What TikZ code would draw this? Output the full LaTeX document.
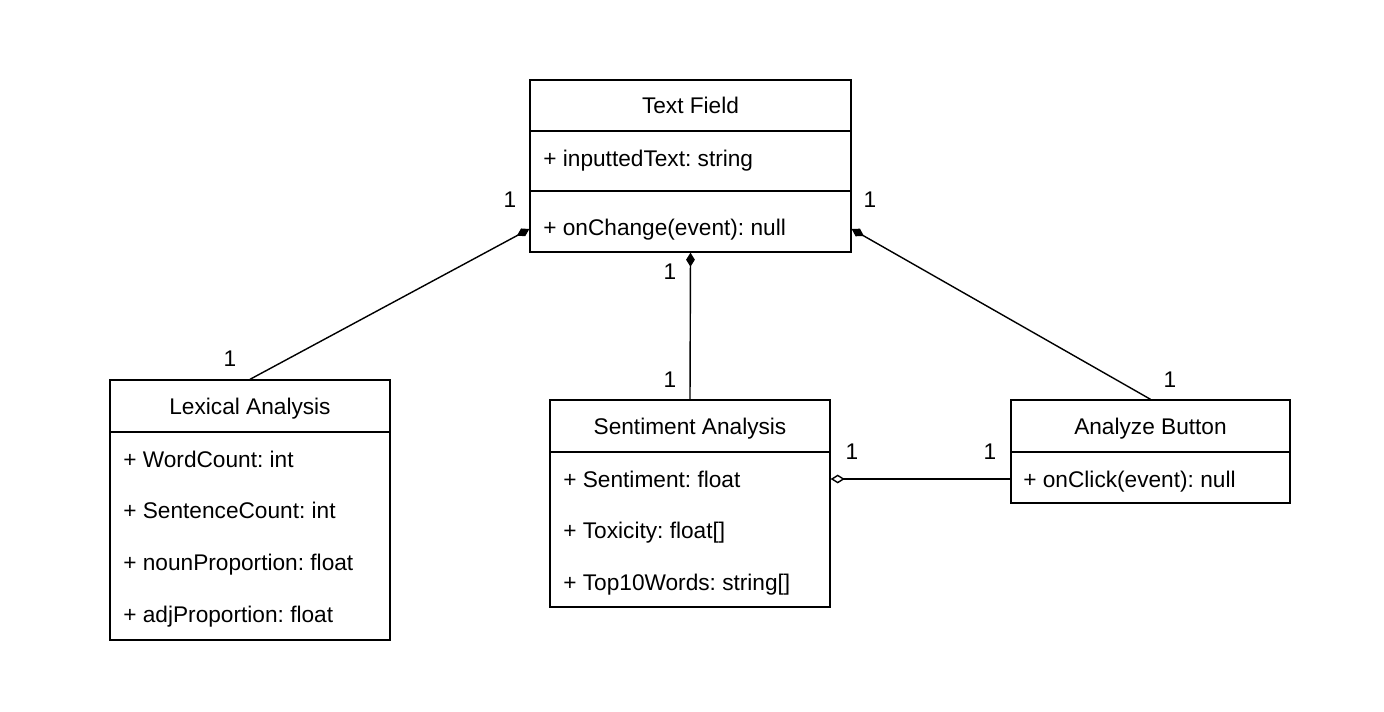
\documentclass[tikz,border=0pt]{standalone}
\usepackage{fontspec}
\setmainfont{Liberation Sans}
\usetikzlibrary{arrows.meta}
\frenchspacing
\tikzset{
  kelas/.style={draw, line width=0.8pt, rectangle, inner sep=0pt},
  judul/.style={font=\fontsize{12.9}{15}\selectfont, text height=0.75em, text depth=0.22em, inner sep=0pt, yshift=-2pt},
  atribut/.style={judul, anchor=west},
  garis/.style={line width=0.8pt},
  komposisi/.style={garis, -{Diamond[length=8pt,width=5pt]}},
  agregasi/.style={garis, -{Diamond[open,fill=white,length=8pt,width=5pt]}},
  kardinal/.style={font=\fontsize{12.9}{15}\selectfont, inner sep=0pt}
}
\begin{document}
\begin{tikzpicture}[x=0.02cm,y=-0.02cm]
    % Latar
    \fill[white] (0,0) rectangle (1384,711);
    \useasboundingbox (0,0) rectangle (1384,711);
    % Kelas Text Field
    \node[kelas, minimum width=6.42cm, minimum height=3.44cm] (tf) at (690.5,166) {};
    \draw[garis] (530,131) -- (851,131);
    \draw[garis] (530,191) -- (851,191);
    \node[judul] (tfj) at (690.5,105) {Text Field};
    \node[atribut] (tfa) at (543,158) {+ inputtedText: string};
    \node[atribut] (tfm) at (543,227) {+ onChange(event): null};
    % Kelas Lexical Analysis
    \node[kelas, minimum width=5.6cm, minimum height=5.2cm] (lex) at (250,510) {};
    \draw[garis] (110,432) -- (390,432);
    \node[judul] (lexj) at (250,406) {Lexical Analysis};
    \node[atribut] (lex1) at (123,459) {+ WordCount: int};
    \node[atribut] (lex2) at (123,510) {+ SentenceCount: int};
    \node[atribut] (lex3) at (123,562) {+ nounProportion: float};
    \node[atribut] (lex4) at (123,614) {+ adjProportion: float};
    % Kelas Sentiment Analysis
    \node[kelas, minimum width=5.6cm, minimum height=4.14cm] (sen) at (690,503.5) {};
    \draw[garis] (550,452) -- (830,452);
    \node[judul] (senj) at (690,426) {Sentiment Analysis};
    \node[atribut] (sen1) at (563,479) {+ Sentiment: float};
    \node[atribut] (sen2) at (563,530) {+ Toxicity: float[]};
    \node[atribut] (sen3) at (563,582) {+ Top10Words: string[]};
    % Kelas Analyze Button
    \node[kelas, minimum width=5.58cm, minimum height=2.06cm] (btn) at (1150.5,451.5) {};
    \draw[garis] (1011,452) -- (1290,452);
    \node[judul] (btnj) at (1150.5,426) {Analyze Button};
    \node[atribut] (btn1) at (1023,479) {+ onClick(event): null};
    % Relasi
    \draw[komposisi] (lex.north) -- (tf.west |- 0,229);
    \draw[komposisi] (sen.north) -- (tf.south);
    \draw[komposisi] (btn.north) -- (tf.east |- 0,229);
    \draw[agregasi] (btn.west |- 0,479) -- (sen.east |- 0,479);
    % Kardinalitas
    \node[kardinal] (k1) at (510,200) {1};
    \node[kardinal] (k2) at (870,200) {1};
    \node[kardinal] (k3) at (230,359) {1};
    \node[kardinal] (k4) at (670,272) {1};
    \node[kardinal] (k5) at (670,380) {1};
    \node[kardinal] (k6) at (1170,380) {1};
    \node[kardinal] (k7) at (852,452) {1};
    \node[kardinal] (k8) at (990,452) {1};
\end{tikzpicture}
\end{document}
